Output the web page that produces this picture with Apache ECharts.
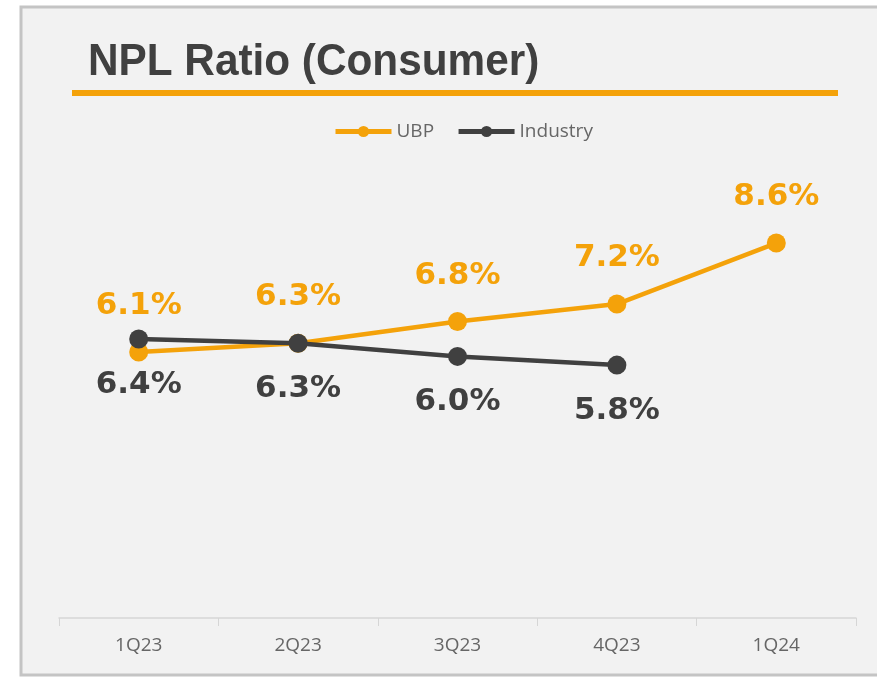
<!DOCTYPE html>
<html>
<head>
<meta charset="utf-8">
<script src="https://cdn.jsdelivr.net/npm/echarts@6/dist/echarts.min.js"></script>
<style>
  html, body { margin: 0; padding: 0; background: #ffffff; }
  #chart { width: 877px; height: 680px; }
</style>
</head>
<body>
<div id="chart"></div>
<script>
// Quarterly consumer NPL ratios (%)
const quarters = ['1Q23', '2Q23', '3Q23', '4Q23', '1Q24'];
const ubpValues = [6.1, 6.3, 6.8, 7.2, 8.6];
const industryValues = [6.4, 6.3, 6.0, 5.8];

const ORANGE = '#F4A20A';
const DARK = '#404040';
const TITLE = 'NPL Ratio (Consumer)';

const chart = echarts.init(document.getElementById('chart'));

chart.setOption({
  backgroundColor: '#ffffff',
  animation: false,
  graphic: [
    {
      type: 'rect',
      z: -10,
      shape: { x: 21, y: 7, width: 870, height: 668 },
      style: { fill: '#f2f2f2', stroke: '#c4c4c4', lineWidth: 3 }
    },
    {
      type: 'rect',
      shape: { x: 72, y: 90, width: 766, height: 6 },
      style: { fill: ORANGE }
    },
    {
      // slightly condensed bold heading
      type: 'text',
      x: 88,
      y: 63,
      scaleX: 0.94,
      style: {
        text: TITLE,
        font: 'bold 45px "Liberation Sans"',
        fill: DARK,
        textAlign: 'left',
        textVerticalAlign: 'middle'
      }
    }
  ],
  legend: {
    left: 328,
    top: 117,
    itemWidth: 56,
    itemHeight: 14,
    itemGap: 22,
    lineStyle: { width: 5 },
    textStyle: { fontFamily: 'Open Sans', fontSize: 19, color: '#666666' },
    data: ['UBP', 'Industry']
  },
  grid: { left: 59, right: 21, top: 182, bottom: 62 },
  xAxis: {
    type: 'category',
    data: quarters,
    boundaryGap: true,
    axisLine: { lineStyle: { color: '#d6d6d6', width: 1.5 } },
    axisTick: { show: true, length: 8, lineStyle: { color: '#d6d6d6' } },
    axisLabel: {
      margin: 18,
      fontFamily: 'Open Sans',
      fontSize: 19,
      color: '#666666'
    }
  },
  yAxis: {
    type: 'value',
    min: 0,
    max: 10,
    show: false,
    splitLine: { show: false }
  },
  series: [
    {
      name: 'UBP',
      type: 'line',
      data: ubpValues,
      symbol: 'circle',
      symbolSize: 19,
      z: 2,
      itemStyle: { color: ORANGE },
      lineStyle: { color: ORANGE, width: 4.5 },
      label: {
        show: true,
        position: 'top',
        distance: 21,
        formatter: p => p.value.toFixed(1) + '%',
        fontFamily: 'DejaVu Sans',
        fontWeight: 'bold',
        fontSize: 31,
        color: ORANGE
      }
    },
    {
      name: 'Industry',
      type: 'line',
      data: industryValues,
      symbol: 'circle',
      symbolSize: 19,
      z: 3,
      itemStyle: { color: DARK },
      lineStyle: { color: DARK, width: 4.5 },
      label: {
        show: true,
        position: 'bottom',
        distance: 21,
        formatter: p => p.value.toFixed(1) + '%',
        fontFamily: 'DejaVu Sans',
        fontWeight: 'bold',
        fontSize: 31,
        color: DARK
      }
    }
  ]
});
</script>
</body>
</html>
